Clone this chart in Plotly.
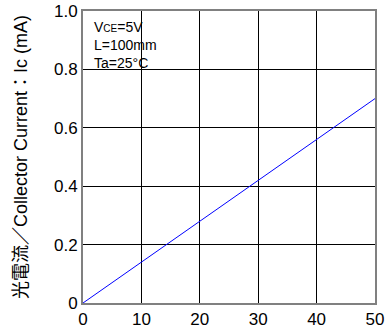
import plotly.graph_objects as go

# distance (mm) vs collector current (mA)
distance = [0, 10, 20, 30, 40, 50]
current = [0, 0.14, 0.28, 0.42, 0.56, 0.70]

x_ticks = [0, 10, 20, 30, 40, 50]
y_ticks = [0, 0.2, 0.4, 0.6, 0.8, 1.0]
y_ticktext = ['0', '0.2', '0.4', '0.6', '0.8', '1.0']

font_family = "Liberation Sans, Arial, Noto Sans CJK JP"

fig = go.Figure()
fig.add_trace(go.Scatter(x=distance, y=current, mode='lines',
                         line=dict(color='#0000ff', width=1),
                         showlegend=False))

fig.update_xaxes(range=[0, 50],
                 tickvals=x_ticks,
                 showgrid=True, gridcolor='black', gridwidth=1,
                 showline=True, linecolor='#808080', linewidth=2, mirror=True,
                 zeroline=False, ticks='', automargin=False,
                 tickfont=dict(size=17, color='black'))

fig.update_yaxes(range=[0, 1.0],
                 tickvals=y_ticks, ticktext=y_ticktext,
                 showgrid=True, gridcolor='black', gridwidth=1,
                 showline=True, linecolor='#808080', linewidth=2, mirror=True,
                 zeroline=False, ticks='', automargin=False,
                 tickfont=dict(size=17, color='black'),
                 title=dict(text='光電流／Collector Current：Ic (mA)',
                            font=dict(size=18, color='black'),
                            standoff=22))

fig.add_annotation(xref='paper', yref='paper', x=0.03, y=0.98,
                   xanchor='left', yanchor='top', showarrow=False, align='left',
                   text='V<span style="font-size:10px">CE</span>=5V<br>L=100mm<br>Ta=25°C',
                   font=dict(size=14, color='black'))

fig.update_layout(width=387, height=334,
                  margin=dict(l=83, r=12, t=11, b=31),
                  plot_bgcolor='white', paper_bgcolor='white',
                  font=dict(family=font_family, color='black'))

# page body has an 8px default margin; drop it so the chart sits at the corner
fig.write_html("out.html", config={'displayModeBar': False},
               post_script="document.body.style.margin='0';")
